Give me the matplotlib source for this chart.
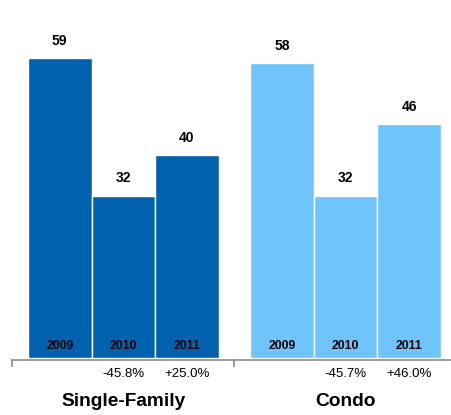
import matplotlib
matplotlib.use("Agg")
import matplotlib.pyplot as plt

plt.rcParams['font.family'] = ['Liberation Sans', 'DejaVu Sans']

groups = ['Single-Family', 'Condo']
years = ['2009', '2010', '2011']
single_family = [59, 32, 40]
condo = [58, 32, 46]
sf_change = ['', '-45.8%', '+25.0%']
condo_change = ['', '-45.7%', '+46.0%']

colors = ['#0062AE', '#70C4FC']
series = [single_family, condo]
changes = [sf_change, condo_change]

fig = plt.figure(figsize=(4.51, 4.15), dpi=100)
ax = fig.add_axes([12 / 451, 57 / 415, 439 / 451, 358 / 415])

gap = 3.5  # distance between group starts (in bar widths)
for g, vals in enumerate(series):
    xs = [g * gap + i + 0.5 for i in range(len(vals))]
    ax.bar(xs, vals, width=1.0, color=colors[g], edgecolor='white', linewidth=1)
    for x, v, yr, ch in zip(xs, vals, years, changes[g]):
        ax.text(x, v + 3.4, str(v), ha='center', va='center', fontsize=10, fontweight='bold')
        ax.text(x, 2.3, yr, ha='center', va='center', fontsize=8.8, fontweight='bold')
        if ch:
            ax.text(x, -3.2, ch, ha='center', va='center', fontsize=9.5)
    ax.text(g * gap + 1.5, -8.6, groups[g], ha='center', va='center', fontsize=13.8, fontweight='bold')

ax.set_xlim(-0.252, 6.66)
ax.set_ylim(0, 70.5)

# baseline with group separators
ax.axhline(-0.4, color='#8c8c8c', linewidth=1.2, clip_on=False)
for tx in [-0.245, 3.25]:
    ax.plot([tx, tx], [-0.4, -1.6], color='#8c8c8c', linewidth=1.2, clip_on=False)

ax.axis('off')
fig.savefig('out.png', dpi=100)
